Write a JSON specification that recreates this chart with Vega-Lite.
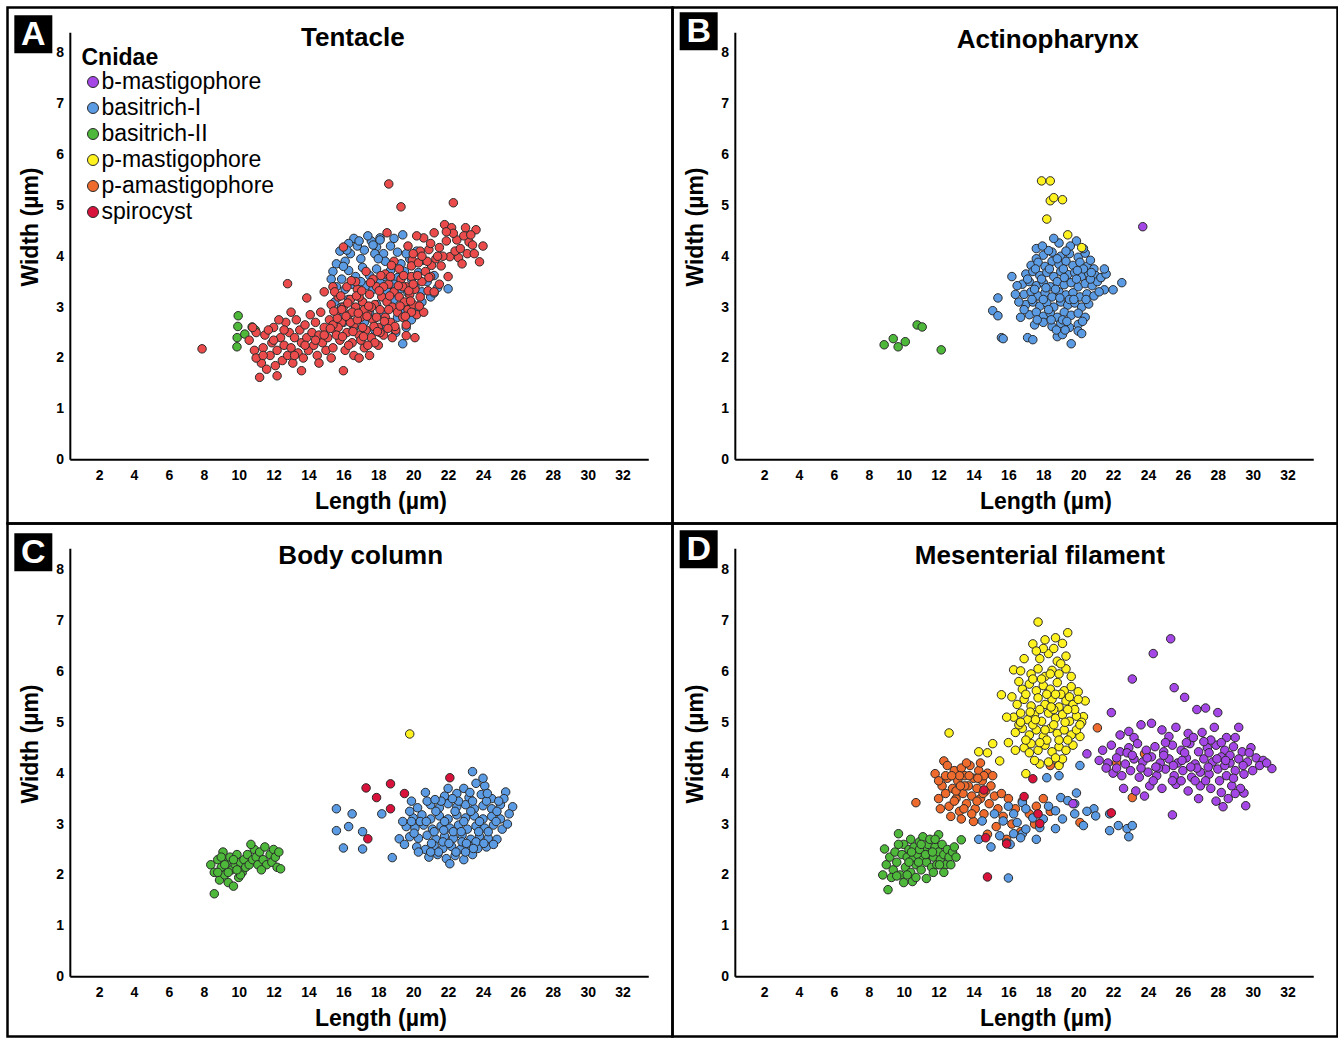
{
"$schema":"https://vega.github.io/schema/vega-lite/v6.json",
"padding":{"left":5.5,"top":5.5,"right":0,"bottom":0},
"background":"white",
"config":{
"font":"Liberation Sans",
"view":{"stroke":"black","strokeWidth":2.5},
"point":{"filled":true,"size":72,"stroke":"#2a2a2a","strokeWidth":1,"opacity":1},
"axis":{"domain":false,"ticks":false,"grid":false,"labelFont":"Liberation Sans","labelFontWeight":"bold","labelFontSize":14,"labelColor":"black","labelFlush":false,"labelOverlap":false,"titleFont":"Liberation Sans","titleFontSize":23,"titleFontWeight":"bold","titleColor":"black","titleBaseline":"alphabetic","titleAlign":"center"},
"legend":{"orient":"none","legendX":74,"legendY":39,"padding":0,"titleFont":"Liberation Sans","titleFontSize":23,"titleFontWeight":"bold","titleColor":"black","titlePadding":1,"labelFont":"Liberation Sans","labelFontSize":23,"labelColor":"black","labelOffset":-3,"labelLimit":0,"symbolType":"circle","symbolSize":121,"symbolStrokeColor":"#2a2a2a","symbolStrokeWidth":1,"rowPadding":2,"symbolOpacity":1}
},
"datasets":{
"tent_bII":[{"L":9.97,"W":2.83},{"L":9.95,"W":2.62},{"L":10.77,"W":2.61},{"L":10.95,"W":2.55},{"L":9.91,"W":2.4},{"L":9.9,"W":2.22},{"L":10.35,"W":2.47}],
"tent_bI":[{"L":16.4,"W":4.05},{"L":16.8,"W":4.2},{"L":17.2,"W":4.12},{"L":17.6,"W":4.3},{"L":17.9,"W":4.18},{"L":18.3,"W":4.05},{"L":18.1,"W":4.36},{"L":17.0,"W":3.95},{"L":16.1,"W":3.9},{"L":15.8,"W":4.1},{"L":18.7,"W":4.2},{"L":19.1,"W":4.08},{"L":19.4,"W":4.42},{"L":18.1,"W":4.32},{"L":16.6,"W":4.35},{"L":17.4,"W":4.4},{"L":15.6,"W":3.85},{"L":19.8,"W":3.95},{"L":20.2,"W":4.1},{"L":20.6,"W":3.92},{"L":17.8,"W":4.05},{"L":16.3,"W":4.25},{"L":15.4,"W":3.7},{"L":15.9,"W":3.55},{"L":16.3,"W":3.72},{"L":16.7,"W":3.6},{"L":17.1,"W":3.78},{"L":17.5,"W":3.62},{"L":17.9,"W":3.75},{"L":18.3,"W":3.6},{"L":18.7,"W":3.72},{"L":19.1,"W":3.58},{"L":19.5,"W":3.7},{"L":19.9,"W":3.55},{"L":20.3,"W":3.68},{"L":20.8,"W":3.5},{"L":21.2,"W":3.62},{"L":15.6,"W":3.4},{"L":16.1,"W":3.35},{"L":16.5,"W":3.45},{"L":16.9,"W":3.3},{"L":17.3,"W":3.42},{"L":17.7,"W":3.35},{"L":18.1,"W":3.48},{"L":18.5,"W":3.32},{"L":18.9,"W":3.45},{"L":19.3,"W":3.36},{"L":19.7,"W":3.28},{"L":20.1,"W":3.4},{"L":20.5,"W":3.3},{"L":21.0,"W":3.2},{"L":21.4,"W":3.38},{"L":15.3,"W":3.55},{"L":16.0,"W":3.8},{"L":18.4,"W":3.9},{"L":19.3,"W":3.85},{"L":17.0,"W":3.5},{"L":18.0,"W":3.95},{"L":15.5,"W":3.1},{"L":15.9,"W":3.0},{"L":16.3,"W":3.15},{"L":16.7,"W":2.95},{"L":17.1,"W":3.1},{"L":17.5,"W":2.9},{"L":17.9,"W":3.05},{"L":18.3,"W":2.85},{"L":18.7,"W":3.0},{"L":19.1,"W":2.8},{"L":19.5,"W":2.95},{"L":19.9,"W":2.75},{"L":20.3,"W":2.9},{"L":16.0,"W":2.7},{"L":16.6,"W":2.6},{"L":17.2,"W":2.7},{"L":17.8,"W":2.55},{"L":18.4,"W":2.65},{"L":19.0,"W":2.5},{"L":19.6,"W":2.6},{"L":19.4,"W":2.28},{"L":20.5,"W":3.1},{"L":21.2,"W":3.28},{"L":22.0,"W":3.36},{"L":15.8,"W":2.85},{"L":18.9,"W":3.15},{"L":16.9,"W":4.3},{"L":17.7,"W":4.22},{"L":18.9,"W":4.35},{"L":16.2,"W":4.12},{"L":19.6,"W":4.05}],
"tent_sp":[{"L":7.9,"W":2.18},{"L":18.6,"W":5.42},{"L":19.3,"W":4.97},{"L":22.3,"W":5.05},{"L":12.8,"W":3.46},{"L":13.9,"W":3.18},{"L":16.0,"W":4.18},{"L":18.5,"W":4.46},{"L":14.9,"W":3.3},{"L":15.4,"W":3.4},
{"L":10.6,"W":2.35},{"L":10.9,"W":2.15},{"L":11.0,"W":2.5},{"L":11.2,"W":1.62},{"L":11.3,"W":1.9},{"L":11.4,"W":2.2},{"L":11.5,"W":2.45},{"L":11.6,"W":1.78},{"L":11.8,"W":2.05},{"L":11.9,"W":2.3},{"L":12.0,"W":2.6},{"L":12.1,"W":1.85},{"L":12.2,"W":2.15},{"L":12.4,"W":2.4},{"L":12.5,"W":1.95},{"L":12.6,"W":2.25},{"L":12.7,"W":2.7},{"L":12.8,"W":2.05},{"L":12.9,"W":2.5},{"L":13.0,"W":2.2},{"L":13.1,"W":1.9},{"L":13.2,"W":2.4},{"L":13.3,"W":2.75},{"L":13.4,"W":2.1},{"L":13.5,"W":2.55},{"L":13.6,"W":2.3},{"L":13.7,"W":2.0},{"L":13.8,"W":2.65},{"L":13.9,"W":2.4},{"L":14.0,"W":2.15},{"L":14.1,"W":2.85},{"L":14.2,"W":2.5},{"L":14.3,"W":2.25},{"L":14.4,"W":2.7},{"L":14.5,"W":2.05},{"L":14.6,"W":2.45},{"L":14.7,"W":2.9},{"L":14.8,"W":2.3},{"L":14.9,"W":2.6},{"L":15.0,"W":2.15},{"L":11.7,"W":2.55},{"L":12.3,"W":2.75},{"L":13.0,"W":2.9},{"L":12.2,"W":1.65},{"L":11.0,"W":2.0},{"L":10.8,"W":2.6},{"L":13.6,"W":1.75},{"L":14.6,"W":1.9},
{"L":15.1,"W":2.4},{"L":15.2,"W":2.75},{"L":15.3,"W":3.05},{"L":15.4,"W":2.2},{"L":15.5,"W":2.55},{"L":15.6,"W":2.9},{"L":15.7,"W":3.2},{"L":15.8,"W":2.35},{"L":15.9,"W":2.7},{"L":16.0,"W":3.0},{"L":16.1,"W":2.15},{"L":16.2,"W":2.5},{"L":16.3,"W":2.85},{"L":16.4,"W":3.15},{"L":16.5,"W":2.3},{"L":16.6,"W":2.65},{"L":16.7,"W":3.0},{"L":16.8,"W":3.35},{"L":16.9,"W":2.45},{"L":17.0,"W":2.8},{"L":17.1,"W":3.1},{"L":17.2,"W":2.2},{"L":17.3,"W":2.55},{"L":17.4,"W":2.9},{"L":17.5,"W":3.25},{"L":17.6,"W":2.4},{"L":17.7,"W":2.75},{"L":17.8,"W":3.05},{"L":17.9,"W":3.4},{"L":18.0,"W":2.6},{"L":18.1,"W":2.95},{"L":18.2,"W":3.2},{"L":18.3,"W":2.45},{"L":18.4,"W":2.8},{"L":18.5,"W":3.1},{"L":18.6,"W":3.45},{"L":18.7,"W":2.7},{"L":18.8,"W":3.0},{"L":18.9,"W":3.3},{"L":19.0,"W":2.55},{"L":19.1,"W":2.9},{"L":19.2,"W":3.2},{"L":19.3,"W":3.55},{"L":19.4,"W":2.8},{"L":19.5,"W":3.1},{"L":19.6,"W":3.4},{"L":19.7,"W":2.95},{"L":19.8,"W":3.25},{"L":19.9,"W":3.6},{"L":20.0,"W":3.05},{"L":20.1,"W":3.35},{"L":20.2,"W":2.85},{"L":15.3,"W":2.0},{"L":16.0,"W":1.75},{"L":16.6,"W":2.05},{"L":17.5,"W":2.05},{"L":18.0,"W":2.25},{"L":15.7,"W":2.6},{"L":16.4,"W":2.7},{"L":17.1,"W":2.6},{"L":17.9,"W":2.8},{"L":18.6,"W":2.95},{"L":16.9,"W":3.2},{"L":17.7,"W":3.55},{"L":18.4,"W":3.65},{"L":16.2,"W":3.4},{"L":15.5,"W":3.3},{"L":19.2,"W":3.75},{"L":18.9,"W":3.9},{"L":17.3,"W":3.7},{"L":16.7,"W":3.5},{"L":17.0,"W":2.35},{"L":18.8,"W":2.4},{"L":19.6,"W":2.65},{"L":20.4,"W":3.2},{"L":20.6,"W":2.9},{"L":20.5,"W":3.5},{"L":16.3,"W":2.25},{"L":15.9,"W":2.95},{"L":17.6,"W":3.0},{"L":18.3,"W":3.4},{"L":19.4,"W":3.4},{"L":17.2,"W":2.95},{"L":16.5,"W":2.9},{"L":15.6,"W":2.45},{"L":18.1,"W":2.5},{"L":19.9,"W":2.9},{"L":17.8,"W":2.3},{"L":16.8,"W":2.75},{"L":15.4,"W":2.65},{"L":18.7,"W":3.6},{"L":19.6,"W":2.44},{"L":20.1,"W":2.4},{"L":16.9,"W":2.0},{"L":17.4,"W":2.25},
{"L":15.25,"W":2.58},{"L":15.65,"W":2.78},{"L":15.95,"W":2.42},{"L":16.25,"W":3.08},{"L":16.55,"W":2.52},{"L":16.85,"W":2.88},{"L":17.15,"W":2.42},{"L":17.45,"W":3.02},{"L":17.75,"W":2.62},{"L":18.05,"W":3.32},{"L":18.35,"W":2.72},{"L":18.65,"W":3.22},{"L":18.95,"W":2.62},{"L":19.25,"W":3.02},{"L":19.55,"W":2.82},{"L":19.85,"W":3.12},{"L":15.45,"W":2.92},{"L":16.15,"W":2.82},{"L":16.75,"W":3.22},{"L":17.35,"W":2.82},{"L":17.95,"W":2.52},{"L":18.55,"W":2.58},{"L":19.15,"W":3.42},{"L":19.75,"W":3.32},{"L":20.35,"W":3.02},{"L":20.25,"W":3.62},{"L":19.45,"W":3.62},{"L":18.15,"W":3.62},{"L":17.55,"W":3.48},{"L":16.45,"W":3.52},{"L":15.85,"W":3.22},{"L":17.05,"W":3.32},{"L":18.75,"W":3.82},{"L":19.95,"W":3.92},{"L":20.85,"W":3.32},{"L":21.05,"W":3.82},{"L":14.9,"W":2.45},{"L":14.4,"W":2.35},{"L":13.8,"W":2.25},{"L":13.2,"W":2.05},{"L":12.6,"W":2.55},{"L":12.0,"W":2.35},{"L":11.4,"W":2.05},
{"L":19.9,"W":3.81},{"L":20.3,"W":3.87},{"L":20.4,"W":4.1},{"L":20.6,"W":4.36},{"L":20.9,"W":4.13},{"L":21.2,"W":4.46},{"L":21.5,"W":4.17},{"L":21.6,"W":3.81},{"L":21.8,"W":4.62},{"L":22.1,"W":3.99},{"L":22.2,"W":4.56},{"L":22.5,"W":4.32},{"L":22.6,"W":3.97},{"L":22.8,"W":3.85},{"L":23.0,"W":4.56},{"L":23.2,"W":4.28},{"L":23.4,"W":4.22},{"L":23.6,"W":4.52},{"L":23.8,"W":3.89},{"L":21.0,"W":3.6},{"L":20.8,"W":3.9},{"L":21.3,"W":3.95},{"L":21.9,"W":4.3},{"L":22.4,"W":4.1},{"L":20.0,"W":3.45},{"L":20.7,"W":3.7},{"L":21.2,"W":3.3},{"L":21.5,"W":3.45},{"L":20.5,"W":4.0},{"L":23.1,"W":4.05},{"L":22.9,"W":4.4},{"L":21.7,"W":4.0},{"L":21.0,"W":4.25},{"L":19.7,"W":4.2},{"L":20.2,"W":4.4},{"L":22.0,"W":3.6},{"L":21.4,"W":4.0},{"L":20.0,"W":4.05},{"L":22.3,"W":4.45},{"L":23.3,"W":4.42},{"L":21.9,"W":4.48},{"L":22.7,"W":4.15},{"L":23.5,"W":4.05},{"L":24.0,"W":4.2},{"L":20.9,"W":3.58}],
"act_bII":[{"L":8.88,"W":2.26},{"L":9.4,"W":2.38},{"L":9.68,"W":2.22},{"L":10.09,"W":2.32},{"L":10.77,"W":2.65},{"L":11.06,"W":2.61},{"L":12.15,"W":2.16}],
"act_bI":[{"L":18.0,"W":4.02},{"L":18.5,"W":4.08},{"L":19.0,"W":4.0},{"L":19.5,"W":4.05},{"L":20.0,"W":3.98},{"L":20.4,"W":4.06},{"L":17.6,"W":3.95},{"L":17.3,"W":3.82},{"L":17.7,"W":3.88},{"L":18.1,"W":3.8},{"L":18.5,"W":3.9},{"L":18.9,"W":3.84},{"L":19.3,"W":3.9},{"L":19.7,"W":3.82},{"L":20.1,"W":3.88},{"L":20.5,"W":3.8},{"L":20.9,"W":3.75},{"L":17.0,"W":3.65},{"L":17.4,"W":3.7},{"L":17.8,"W":3.62},{"L":18.2,"W":3.68},{"L":18.6,"W":3.6},{"L":19.0,"W":3.7},{"L":19.4,"W":3.64},{"L":19.8,"W":3.68},{"L":20.2,"W":3.6},{"L":20.6,"W":3.66},{"L":21.0,"W":3.62},{"L":21.3,"W":3.58},{"L":16.8,"W":3.45},{"L":17.2,"W":3.5},{"L":17.6,"W":3.42},{"L":18.0,"W":3.48},{"L":18.4,"W":3.4},{"L":18.8,"W":3.5},{"L":19.2,"W":3.44},{"L":19.6,"W":3.48},{"L":20.0,"W":3.4},{"L":20.4,"W":3.46},{"L":20.8,"W":3.42},{"L":21.1,"W":3.5},{"L":16.9,"W":3.25},{"L":17.3,"W":3.3},{"L":17.7,"W":3.22},{"L":18.1,"W":3.28},{"L":18.5,"W":3.2},{"L":18.9,"W":3.3},{"L":19.3,"W":3.24},{"L":19.7,"W":3.28},{"L":20.1,"W":3.2},{"L":20.5,"W":3.26},{"L":20.9,"W":3.22},{"L":17.0,"W":3.05},{"L":17.4,"W":3.1},{"L":17.8,"W":3.02},{"L":18.2,"W":3.08},{"L":18.6,"W":3.0},{"L":19.0,"W":3.1},{"L":19.4,"W":3.04},{"L":19.8,"W":3.08},{"L":20.2,"W":3.0},{"L":20.6,"W":3.06},{"L":17.2,"W":2.85},{"L":17.6,"W":2.9},{"L":18.0,"W":2.82},{"L":18.4,"W":2.88},{"L":18.8,"W":2.8},{"L":19.2,"W":2.9},{"L":19.6,"W":2.84},{"L":20.0,"W":2.88},{"L":20.4,"W":2.8},{"L":17.5,"W":2.65},{"L":18.0,"W":2.7},{"L":18.5,"W":2.62},{"L":19.0,"W":2.68},{"L":19.5,"W":2.6},{"L":20.0,"W":2.66},{"L":17.9,"W":3.55},{"L":18.7,"W":3.35},{"L":19.5,"W":3.15},{"L":18.3,"W":2.95},{"L":19.9,"W":3.55},{"L":17.5,"W":3.35},{"L":20.3,"W":3.75},{"L":18.8,"W":3.95},{"L":19.2,"W":3.58},{"L":18.0,"W":3.15},{"L":19.1,"W":2.75},{"L":20.7,"W":3.55},{"L":16.5,"W":3.42},{"L":15.4,"W":3.18},{"L":15.1,"W":2.93},{"L":15.4,"W":2.83},{"L":15.6,"W":2.4},{"L":15.7,"W":2.38},{"L":17.1,"W":2.4},{"L":17.4,"W":2.36},{"L":18.8,"W":2.42},{"L":19.1,"W":2.46},{"L":19.6,"W":2.28},{"L":20.0,"W":2.53},{"L":20.2,"W":2.48},{"L":21.5,"W":3.34},{"L":22.0,"W":3.34},{"L":22.5,"W":3.48},{"L":18.9,"W":4.26},{"L":18.3,"W":4.11},{"L":20.3,"W":4.15},{"L":21.3,"W":3.58},{"L":21.6,"W":3.65},{"L":21.5,"W":3.75},{"L":16.2,"W":3.6},{"L":16.6,"W":3.1},{"L":16.7,"W":2.8},{"L":19.9,"W":4.3},{"L":17.6,"W":4.15},{"L":17.1,"W":3.55},{"L":17.55,"W":3.75},{"L":18.35,"W":3.75},{"L":19.15,"W":3.75},{"L":19.95,"W":3.72},{"L":20.75,"W":3.68},{"L":17.35,"W":3.15},{"L":18.15,"W":3.38},{"L":18.95,"W":3.18},{"L":19.75,"W":3.15},{"L":20.45,"W":3.15},{"L":17.65,"W":2.75},{"L":18.45,"W":2.75},{"L":19.35,"W":2.72},{"L":20.25,"W":2.72},{"L":18.75,"W":2.55},{"L":19.25,"W":2.55},{"L":17.95,"W":4.2},{"L":19.55,"W":4.2},{"L":20.7,"W":3.92},{"L":16.9,"W":2.95},{"L":21.2,"W":3.3},{"L":16.4,"W":3.25},{"L":18.6,"W":4.35},{"L":19.3,"W":4.1}],
"act_pm":[{"L":17.9,"W":5.48},{"L":18.4,"W":5.48},{"L":18.4,"W":5.09},{"L":18.6,"W":5.15},{"L":19.1,"W":5.11},{"L":18.2,"W":4.73},{"L":19.4,"W":4.42},{"L":20.2,"W":4.17}],
"act_bm":[{"L":23.7,"W":4.58}],
"body_bII":[{"L":8.6,"W":1.63},{"L":8.4,"W":2.2},{"L":8.6,"W":2.05},{"L":8.8,"W":2.3},{"L":8.9,"W":1.9},{"L":9.0,"W":2.15},{"L":9.1,"W":2.45},{"L":9.2,"W":2.0},{"L":9.3,"W":2.25},{"L":9.4,"W":1.85},{"L":9.5,"W":2.35},{"L":9.6,"W":2.1},{"L":9.7,"W":1.78},{"L":9.8,"W":2.2},{"L":9.9,"W":2.4},{"L":10.0,"W":1.95},{"L":10.1,"W":2.25},{"L":10.2,"W":2.05},{"L":10.3,"W":2.3},{"L":10.4,"W":2.15},{"L":10.5,"W":2.4},{"L":9.0,"W":2.35},{"L":9.4,"W":2.05},{"L":9.7,"W":2.3},{"L":10.1,"W":2.0},{"L":8.8,"W":2.05},{"L":9.2,"W":2.2},{"L":9.9,"W":2.1},{"L":10.6,"W":2.2},{"L":10.8,"W":2.3},{"L":10.9,"W":2.5},{"L":11.0,"W":2.35},{"L":11.1,"W":2.2},{"L":11.2,"W":2.45},{"L":11.4,"W":2.3},{"L":11.5,"W":2.55},{"L":11.6,"W":2.2},{"L":11.8,"W":2.4},{"L":11.9,"W":2.25},{"L":12.0,"W":2.5},{"L":12.1,"W":2.35},{"L":12.2,"W":2.15},{"L":12.4,"W":2.12},{"L":10.7,"W":2.6},{"L":11.3,"W":2.1},{"L":12.3,"W":2.45}],
"body_bI":[{"L":15.6,"W":3.3},{"L":16.3,"W":2.95},{"L":15.6,"W":2.87},{"L":16.0,"W":2.53},{"L":17.1,"W":2.51},{"L":17.1,"W":2.85},{"L":18.2,"W":3.2},{"L":18.8,"W":2.34},{"L":19.2,"W":2.71},{"L":16.5,"W":3.2},
{"L":21.8,"W":3.55},{"L":22.5,"W":3.6},{"L":23.2,"W":3.52},{"L":23.9,"W":3.58},{"L":24.5,"W":3.5},{"L":25.3,"W":3.63},{"L":22.9,"W":3.7},{"L":24.1,"W":3.75},{"L":21.0,"W":3.38},{"L":21.5,"W":3.32},{"L":22.0,"W":3.4},{"L":22.5,"W":3.34},{"L":23.0,"W":3.38},{"L":23.5,"W":3.3},{"L":24.0,"W":3.36},{"L":24.5,"W":3.3},{"L":25.0,"W":3.38},{"L":25.7,"W":3.34},{"L":20.0,"W":3.12},{"L":20.5,"W":3.18},{"L":21.0,"W":3.1},{"L":21.5,"W":3.16},{"L":22.0,"W":3.1},{"L":22.5,"W":3.18},{"L":23.0,"W":3.12},{"L":23.5,"W":3.16},{"L":24.0,"W":3.1},{"L":24.5,"W":3.15},{"L":25.0,"W":3.1},{"L":19.6,"W":2.95},{"L":20.1,"W":2.92},{"L":20.6,"W":2.98},{"L":21.1,"W":2.9},{"L":21.6,"W":2.96},{"L":22.1,"W":2.92},{"L":22.6,"W":2.98},{"L":23.1,"W":2.9},{"L":23.6,"W":2.96},{"L":24.1,"W":2.92},{"L":24.6,"W":2.98},{"L":25.1,"W":2.9},{"L":19.8,"W":2.75},{"L":20.3,"W":2.72},{"L":20.8,"W":2.78},{"L":21.3,"W":2.7},{"L":21.8,"W":2.76},{"L":22.3,"W":2.72},{"L":22.8,"W":2.78},{"L":23.3,"W":2.7},{"L":23.8,"W":2.76},{"L":24.3,"W":2.72},{"L":24.8,"W":2.7},{"L":20.2,"W":2.55},{"L":20.7,"W":2.5},{"L":21.2,"W":2.58},{"L":21.7,"W":2.52},{"L":22.2,"W":2.56},{"L":22.7,"W":2.5},{"L":23.2,"W":2.58},{"L":23.7,"W":2.52},{"L":24.2,"W":2.55},{"L":20.9,"W":2.35},{"L":21.4,"W":2.4},{"L":21.9,"W":2.32},{"L":22.4,"W":2.38},{"L":22.9,"W":2.3},{"L":23.4,"W":2.4},{"L":22.1,"W":2.22},{"L":20.8,"W":3.45},{"L":21.3,"W":3.25},{"L":21.8,"W":3.05},{"L":22.3,"W":2.85},{"L":22.8,"W":2.65},{"L":23.3,"W":3.25},{"L":23.8,"W":3.05},{"L":24.3,"W":2.85},{"L":21.2,"W":2.85},{"L":21.7,"W":2.65},{"L":22.6,"W":3.45},{"L":23.6,"W":2.65},{"L":20.4,"W":3.05},{"L":24.8,"W":3.25},{"L":19.8,"W":3.25},{"L":20.3,"W":2.45},{"L":22.9,"W":3.05},{"L":21.6,"W":3.45},{"L":23.4,"W":3.45},{"L":24.2,"W":3.45},{"L":22.4,"W":3.25},{"L":23.0,"W":2.45},{"L":24.6,"W":2.6},{"L":25.4,"W":3.0},{"L":25.5,"W":3.2},{"L":19.5,"W":2.6},{"L":19.4,"W":3.05},{"L":23.4,"W":4.03},{"L":24.0,"W":3.9},{"L":20.7,"W":3.62},{"L":19.9,"W":3.45},{"L":20.25,"W":3.32},{"L":21.25,"W":3.48},{"L":22.25,"W":3.5},{"L":23.25,"W":3.62},{"L":24.25,"W":3.6},{"L":20.05,"W":2.82},{"L":21.05,"W":2.62},{"L":22.05,"W":2.62},{"L":23.05,"W":2.62},{"L":24.05,"W":2.62},{"L":20.75,"W":3.05},{"L":21.75,"W":2.88},{"L":22.75,"W":2.85},{"L":23.75,"W":2.85},{"L":24.75,"W":3.05},{"L":21.45,"W":2.45},{"L":22.45,"W":2.45},{"L":23.45,"W":2.52},{"L":25.2,"W":3.5},{"L":22.0,"W":3.7},{"L":23.6,"W":3.8},{"L":24.9,"W":3.45},{"L":21.0,"W":2.45},{"L":19.9,"W":3.05}],
"body_sp":[{"L":17.3,"W":3.71},{"L":18.7,"W":3.79},{"L":17.9,"W":3.52},{"L":19.5,"W":3.6},{"L":17.4,"W":2.71},{"L":18.7,"W":3.3},{"L":22.1,"W":3.91}],
"body_pm":[{"L":19.8,"W":4.77}],
"mes_bII":[{"L":9.1,"W":1.71},{"L":8.9,"W":2.51},{"L":9.7,"W":2.81},{"L":12.0,"W":2.79},{"L":13.3,"W":2.69},{"L":10.5,"W":1.87},{"L":11.3,"W":1.93},{"L":9.0,"W":2.2},{"L":9.2,"W":2.35},{"L":9.4,"W":2.1},{"L":9.5,"W":2.45},{"L":9.6,"W":2.25},{"L":9.8,"W":2.0},{"L":9.9,"W":2.4},{"L":10.0,"W":2.6},{"L":10.1,"W":2.15},{"L":10.2,"W":2.35},{"L":10.3,"W":2.5},{"L":10.4,"W":2.05},{"L":10.5,"W":2.3},{"L":10.6,"W":2.55},{"L":10.7,"W":2.2},{"L":10.8,"W":2.4},{"L":10.9,"W":2.65},{"L":11.0,"W":2.1},{"L":11.1,"W":2.3},{"L":11.2,"W":2.5},{"L":11.3,"W":2.25},{"L":11.4,"W":2.6},{"L":11.5,"W":2.4},{"L":11.6,"W":2.15},{"L":11.7,"W":2.35},{"L":11.8,"W":2.55},{"L":11.9,"W":2.2},{"L":12.0,"W":2.45},{"L":12.1,"W":2.3},{"L":12.2,"W":2.6},{"L":12.3,"W":2.4},{"L":12.4,"W":2.2},{"L":12.5,"W":2.5},{"L":12.6,"W":2.35},{"L":12.8,"W":2.45},{"L":13.0,"W":2.35},{"L":9.3,"W":1.95},{"L":9.7,"W":2.6},{"L":10.4,"W":2.7},{"L":10.7,"W":1.95},{"L":11.1,"W":2.75},{"L":11.7,"W":2.05},{"L":12.3,"W":2.05},{"L":12.7,"W":2.2},{"L":10.0,"W":1.85},{"L":9.6,"W":1.98},{"L":11.5,"W":2.7},{"L":10.3,"W":2.25},{"L":10.9,"W":2.5},{"L":11.8,"W":2.7},{"L":12.9,"W":2.55},{"L":10.2,"W":2.0},{"L":8.8,"W":2.0},{"L":10.85,"W":2.25},{"L":11.25,"W":2.4},{"L":11.65,"W":2.45},{"L":10.45,"W":2.45},{"L":12.05,"W":2.2},{"L":11.0,"W":2.6}],
"mes_pa":[{"L":11.8,"W":3.99},{"L":12.3,"W":4.24},{"L":10.7,"W":3.42},{"L":12.0,"W":3.5},{"L":12.2,"W":3.75},{"L":12.4,"W":3.6},{"L":12.5,"W":3.9},{"L":12.6,"W":3.35},{"L":12.8,"W":3.7},{"L":12.9,"W":4.05},{"L":13.0,"W":3.5},{"L":13.1,"W":3.85},{"L":13.2,"W":3.25},{"L":13.3,"W":4.1},{"L":13.4,"W":3.6},{"L":13.5,"W":3.95},{"L":13.6,"W":3.4},{"L":13.7,"W":3.75},{"L":13.8,"W":4.15},{"L":13.9,"W":3.55},{"L":14.0,"W":3.9},{"L":14.1,"W":3.3},{"L":14.2,"W":3.7},{"L":14.3,"W":4.05},{"L":14.4,"W":3.5},{"L":14.5,"W":3.85},{"L":14.6,"W":3.2},{"L":14.7,"W":3.65},{"L":14.8,"W":4.0},{"L":14.9,"W":3.4},{"L":15.0,"W":3.75},{"L":15.2,"W":3.55},{"L":12.1,"W":3.3},{"L":12.7,"W":3.15},{"L":13.3,"W":3.1},{"L":14.0,"W":3.05},{"L":12.5,"W":4.15},{"L":13.6,"W":4.2},{"L":14.4,"W":4.2},{"L":15.1,"W":3.95},{"L":15.4,"W":3.3},{"L":15.6,"W":3.6},{"L":13.0,"W":3.65},{"L":13.9,"W":3.2},{"L":12.9,"W":3.45},{"L":14.2,"W":3.45},{"L":13.5,"W":3.75},{"L":12.4,"W":3.95},{"L":14.6,"W":3.95},{"L":13.2,"W":3.95},{"L":12.0,"W":3.85},{"L":13.25,"W":3.75},{"L":13.75,"W":3.95},{"L":14.25,"W":3.9},{"L":12.75,"W":3.95},{"L":13.45,"W":3.3},{"L":14.55,"W":3.6},{"L":16.0,"W":3.5},{"L":16.4,"W":3.3},{"L":16.8,"W":3.45},{"L":17.2,"W":3.2},{"L":17.6,"W":3.35},{"L":18.0,"W":3.5},{"L":18.4,"W":3.25},{"L":16.2,"W":3.0},{"L":16.7,"W":2.85},{"L":17.5,"W":3.0},{"L":15.7,"W":3.15},{"L":18.4,"W":4.15},{"L":18.9,"W":4.18},{"L":20.1,"W":3.03},{"L":21.1,"W":4.89},{"L":23.8,"W":4.38},{"L":22.2,"W":4.2},{"L":23.1,"W":3.52},{"L":15.3,"W":2.95},{"L":14.8,"W":2.8},{"L":15.9,"W":2.7}],
"mes_bI":[{"L":14.5,"W":3.06},{"L":16.0,"W":1.94},{"L":15.7,"W":3.06},{"L":16.3,"W":2.81},{"L":16.8,"W":3.42},{"L":16.8,"W":2.81},{"L":17.8,"W":2.93},{"L":18.2,"W":3.91},{"L":18.9,"W":3.95},{"L":20.1,"W":4.15},{"L":19.0,"W":3.52},{"L":19.4,"W":3.46},{"L":19.9,"W":3.61},{"L":19.8,"W":3.4},{"L":18.7,"W":3.26},{"L":18.7,"W":2.91},{"L":19.8,"W":3.2},{"L":20.3,"W":2.97},{"L":20.9,"W":3.3},{"L":21.0,"W":3.16},{"L":21.8,"W":2.87},{"L":22.3,"W":2.97},{"L":22.8,"W":2.91},{"L":23.1,"W":2.97},{"L":22.9,"W":2.75},{"L":21.8,"W":3.2},{"L":15.5,"W":2.77},{"L":15.9,"W":2.63},{"L":16.7,"W":2.73},{"L":17.0,"W":2.9},{"L":16.3,"W":3.2},{"L":16.5,"W":3.03},{"L":17.4,"W":3.12},{"L":17.0,"W":3.3},{"L":14.3,"W":2.7},{"L":15.2,"W":3.2},{"L":17.6,"W":2.7},{"L":18.3,"W":3.35},{"L":19.1,"W":3.1},{"L":20.5,"W":3.25},{"L":15.0,"W":2.55},{"L":16.1,"W":2.6},{"L":18.0,"W":3.1},{"L":16.0,"W":3.35}],
"mes_pm":[{"L":17.7,"W":6.97},{"L":19.4,"W":6.76},{"L":17.4,"W":6.54},{"L":18.1,"W":6.62},{"L":18.7,"W":6.66},{"L":16.3,"W":6.03},{"L":16.7,"W":6.01},{"L":15.6,"W":5.54},{"L":12.6,"W":4.79},{"L":15.1,"W":4.58},{"L":14.3,"W":4.42},{"L":14.8,"W":4.4},{"L":15.5,"W":4.24},{"L":20.4,"W":5.42},{"L":20.3,"W":5.11},{"L":20.1,"W":4.72},{"L":17.0,"W":3.99},{"L":17.8,"W":4.18},{"L":18.9,"W":4.15},{"L":16.4,"W":4.45},{"L":16.0,"W":4.6},{"L":17.8,"W":6.25},{"L":18.3,"W":6.35},{"L":18.8,"W":6.2},{"L":19.3,"W":6.3},{"L":18.0,"W":6.45},{"L":17.3,"W":5.95},{"L":17.7,"W":6.05},{"L":18.1,"W":5.9},{"L":18.5,"W":6.02},{"L":18.9,"W":5.95},{"L":19.3,"W":6.05},{"L":19.6,"W":5.9},{"L":16.8,"W":5.65},{"L":17.2,"W":5.75},{"L":17.6,"W":5.62},{"L":18.0,"W":5.72},{"L":18.4,"W":5.65},{"L":18.8,"W":5.78},{"L":19.2,"W":5.62},{"L":19.6,"W":5.7},{"L":20.0,"W":5.6},{"L":16.5,"W":5.35},{"L":16.9,"W":5.45},{"L":17.3,"W":5.32},{"L":17.7,"W":5.48},{"L":18.1,"W":5.35},{"L":18.5,"W":5.45},{"L":18.9,"W":5.3},{"L":19.3,"W":5.42},{"L":19.7,"W":5.35},{"L":20.0,"W":5.45},{"L":16.3,"W":5.1},{"L":16.7,"W":5.18},{"L":17.1,"W":5.05},{"L":17.5,"W":5.15},{"L":17.9,"W":5.02},{"L":18.3,"W":5.18},{"L":18.7,"W":5.08},{"L":19.1,"W":5.15},{"L":19.5,"W":5.02},{"L":19.9,"W":5.12},{"L":16.4,"W":4.8},{"L":16.8,"W":4.88},{"L":17.2,"W":4.75},{"L":17.6,"W":4.85},{"L":18.0,"W":4.72},{"L":18.4,"W":4.88},{"L":18.8,"W":4.78},{"L":19.2,"W":4.85},{"L":19.6,"W":4.75},{"L":19.9,"W":4.85},{"L":16.9,"W":4.5},{"L":17.3,"W":4.58},{"L":17.7,"W":4.45},{"L":18.1,"W":4.55},{"L":18.5,"W":4.42},{"L":18.9,"W":4.52},{"L":19.3,"W":4.45},{"L":19.7,"W":4.55},{"L":17.5,"W":4.25},{"L":18.3,"W":4.22},{"L":19.1,"W":4.28},{"L":17.0,"W":5.55},{"L":17.8,"W":5.25},{"L":18.6,"W":4.95},{"L":19.4,"W":4.65},{"L":17.4,"W":4.95},{"L":18.2,"W":4.65},{"L":19.0,"W":5.55},{"L":18.2,"W":5.55},{"L":17.4,"W":5.85},{"L":19.8,"W":5.25},{"L":16.6,"W":4.95},{"L":19.0,"W":6.15},{"L":17.0,"W":4.65},{"L":18.6,"W":5.25},{"L":17.8,"W":4.6},{"L":19.4,"W":5.25},{"L":16.2,"W":5.5},{"L":20.2,"W":5.0},{"L":16.9,"W":6.25},{"L":18.4,"W":5.95},{"L":17.55,"W":5.05},{"L":18.45,"W":5.3},{"L":19.25,"W":5.0},{"L":17.25,"W":5.2},{"L":18.1,"W":4.85},{"L":18.9,"W":4.65},{"L":17.9,"W":5.85},{"L":18.7,"W":5.55},{"L":16.7,"W":5.0},{"L":19.5,"W":5.5},{"L":17.6,"W":6.4},{"L":18.6,"W":6.45},{"L":19.1,"W":6.55},{"L":16.6,"W":5.8},{"L":20.1,"W":4.95},{"L":15.9,"W":5.1},{"L":17.2,"W":4.4},{"L":18.7,"W":4.3}],
"mes_bm":[{"L":25.3,"W":6.64},{"L":24.3,"W":6.35},{"L":23.1,"W":5.85},{"L":25.5,"W":5.68},{"L":26.1,"W":5.49},{"L":26.8,"W":5.25},{"L":27.3,"W":5.28},{"L":28.0,"W":5.19},{"L":21.9,"W":5.19},{"L":25.4,"W":3.18},{"L":29.6,"W":3.36},{"L":28.3,"W":3.34},{"L":31.1,"W":4.09},{"L":20.5,"W":4.38},{"L":29.5,"W":3.61},{"L":19.7,"W":3.4},{"L":22.4,"W":4.75},{"L":22.9,"W":4.82},{"L":23.6,"W":4.95},{"L":24.2,"W":4.98},{"L":24.8,"W":4.85},{"L":25.6,"W":4.9},{"L":26.3,"W":4.78},{"L":27.1,"W":4.8},{"L":27.8,"W":4.9},{"L":29.2,"W":4.9},{"L":23.2,"W":4.7},{"L":25.2,"W":4.72},{"L":21.4,"W":4.45},{"L":21.9,"W":4.55},{"L":22.4,"W":4.42},{"L":22.9,"W":4.5},{"L":23.4,"W":4.58},{"L":23.9,"W":4.45},{"L":24.4,"W":4.52},{"L":24.9,"W":4.42},{"L":25.4,"W":4.55},{"L":25.9,"W":4.45},{"L":26.4,"W":4.58},{"L":26.9,"W":4.42},{"L":27.4,"W":4.5},{"L":27.9,"W":4.55},{"L":28.4,"W":4.45},{"L":28.9,"W":4.52},{"L":29.4,"W":4.42},{"L":29.9,"W":4.5},{"L":21.2,"W":4.25},{"L":21.7,"W":4.2},{"L":22.2,"W":4.3},{"L":22.7,"W":4.18},{"L":23.2,"W":4.28},{"L":23.7,"W":4.22},{"L":24.2,"W":4.32},{"L":24.7,"W":4.2},{"L":25.2,"W":4.28},{"L":25.7,"W":4.2},{"L":26.2,"W":4.3},{"L":26.7,"W":4.18},{"L":27.2,"W":4.28},{"L":27.7,"W":4.22},{"L":28.2,"W":4.32},{"L":28.7,"W":4.2},{"L":29.2,"W":4.28},{"L":29.7,"W":4.22},{"L":30.2,"W":4.3},{"L":30.6,"W":4.25},{"L":22.0,"W":4.0},{"L":22.5,"W":3.95},{"L":23.0,"W":4.05},{"L":23.5,"W":3.92},{"L":24.0,"W":4.02},{"L":24.5,"W":3.95},{"L":25.0,"W":4.08},{"L":25.5,"W":3.95},{"L":26.0,"W":4.05},{"L":26.5,"W":3.92},{"L":27.0,"W":4.02},{"L":27.5,"W":3.98},{"L":28.0,"W":4.08},{"L":28.5,"W":3.95},{"L":29.0,"W":4.05},{"L":29.5,"W":3.98},{"L":30.0,"W":4.05},{"L":22.6,"W":3.7},{"L":23.3,"W":3.65},{"L":24.1,"W":3.75},{"L":24.8,"W":3.7},{"L":25.6,"W":3.78},{"L":26.3,"W":3.65},{"L":27.0,"W":3.75},{"L":27.6,"W":3.7},{"L":28.2,"W":3.62},{"L":28.8,"W":3.75},{"L":29.3,"W":3.7},{"L":23.8,"W":3.55},{"L":26.9,"W":3.5},{"L":27.9,"W":3.45},{"L":28.6,"W":3.5},{"L":25.0,"W":4.6},{"L":26.6,"W":4.7},{"L":27.6,"W":4.65},{"L":28.5,"W":4.7},{"L":24.6,"W":4.1},{"L":26.8,"W":4.1},{"L":28.4,"W":4.15},{"L":25.9,"W":3.85},{"L":27.3,"W":3.85},{"L":28.9,"W":3.9},{"L":22.8,"W":4.4},{"L":23.6,"W":4.1},{"L":24.9,"W":4.35},{"L":26.1,"W":4.4},{"L":27.5,"W":4.4},{"L":28.7,"W":4.35},{"L":29.8,"W":4.4},{"L":30.4,"W":4.15},{"L":24.3,"W":3.85},{"L":29.0,"W":3.6},{"L":21.6,"W":4.1},{"L":30.8,"W":4.2},{"L":24.45,"W":4.12},{"L":25.45,"W":4.15},{"L":26.45,"W":4.12},{"L":27.45,"W":4.12},{"L":28.45,"W":4.25},{"L":29.45,"W":4.15},{"L":23.95,"W":4.3},{"L":25.95,"W":4.25},{"L":27.95,"W":4.28},{"L":26.2,"W":4.6},{"L":27.2,"W":4.62},{"L":28.2,"W":4.6},{"L":29.0,"W":4.7},{"L":25.4,"W":3.85},{"L":26.7,"W":3.85},{"L":28.1,"W":3.85},{"L":22.2,"W":4.1},{"L":23.1,"W":4.35}],
"mes_sp":[{"L":17.4,"W":3.89},{"L":14.6,"W":3.67},{"L":16.9,"W":3.54},{"L":17.7,"W":3.2},{"L":17.8,"W":3.01},{"L":14.7,"W":2.73},{"L":15.9,"W":2.61},{"L":14.8,"W":1.96},{"L":21.9,"W":3.22}]
},
"columns":2,
"spacing":0,
"bounds":"flush",
"resolve":{"scale":{"color":"shared","x":"independent","y":"independent"}},
"concat":[
{"width":665,"height":516,"layer":[
{"data":{"values":[{}]},"mark":{"type":"rule","color":"black","strokeWidth":2},"encoding":{"x":{"datum":0.35,"type":"quantitative","scale":{"domain":[-3.25,34.86],"nice":false,"zero":false}},"x2":{"datum":33.5},"y":{"datum":0,"type":"quantitative","scale":{"domain":[-1.252,8.887],"nice":false,"zero":false}}}},
{"data":{"values":[{}]},"mark":{"type":"rule","color":"black","strokeWidth":2},"encoding":{"x":{"datum":0.35,"type":"quantitative","scale":{"domain":[-3.25,34.86],"nice":false,"zero":false}},"y":{"datum":0,"type":"quantitative","scale":{"domain":[-1.252,8.887],"nice":false,"zero":false}},"y2":{"datum":8.39}}},
{"data":{"name":"tent_bII"},"mark":"point","encoding":{"x":{"field":"L","type":"quantitative","scale":{"domain":[-3.25,34.86],"nice":false,"zero":false},"axis":{"orient":"bottom","offset":-64,"values":[2,4,6,8,10,12,14,16,18,20,22,24,26,28,30,32],"labelPadding":9,"title":"Length (µm)","titleX":373,"titleY":49}},"y":{"field":"W","type":"quantitative","scale":{"domain":[-1.252,8.887],"nice":false,"zero":false},"axis":{"orient":"left","offset":-62,"values":[0,1,2,3,4,5,6,7,8],"labelPadding":6,"title":"Width (µm)","titleAngle":-90,"titleX":-32,"titleY":219}},"color":{"datum":"basitrich-II","type":"nominal","scale":{"domain":["b-mastigophore","basitrich-I","basitrich-II","p-mastigophore","p-amastigophore","spirocyst"],"range":["#A546E6","#5B9BE4","#4DB83A","#FFF21F","#EE6B2D","#D8123B"]},"legend":{"title":"Cnidae"}}}},
{"data":{"name":"tent_bI"},"mark":"point","encoding":{"x":{"field":"L","type":"quantitative","scale":{"domain":[-3.25,34.86],"nice":false,"zero":false},"axis":{"orient":"bottom","offset":-64,"values":[2,4,6,8,10,12,14,16,18,20,22,24,26,28,30,32],"labelPadding":9,"title":"Length (µm)","titleX":373,"titleY":49}},"y":{"field":"W","type":"quantitative","scale":{"domain":[-1.252,8.887],"nice":false,"zero":false},"axis":{"orient":"left","offset":-62,"values":[0,1,2,3,4,5,6,7,8],"labelPadding":6,"title":"Width (µm)","titleAngle":-90,"titleX":-32,"titleY":219}},"color":{"datum":"basitrich-I","type":"nominal","scale":{"domain":["b-mastigophore","basitrich-I","basitrich-II","p-mastigophore","p-amastigophore","spirocyst"],"range":["#A546E6","#5B9BE4","#4DB83A","#FFF21F","#EE6B2D","#D8123B"]},"legend":{"title":"Cnidae"}}}},
{"data":{"name":"tent_sp"},"mark":{"type":"point","fill":"#EC4B4B"},"encoding":{"x":{"field":"L","type":"quantitative","scale":{"domain":[-3.25,34.86],"nice":false,"zero":false},"axis":{"orient":"bottom","offset":-64,"values":[2,4,6,8,10,12,14,16,18,20,22,24,26,28,30,32],"labelPadding":9,"title":"Length (µm)","titleX":373,"titleY":49}},"y":{"field":"W","type":"quantitative","scale":{"domain":[-1.252,8.887],"nice":false,"zero":false},"axis":{"orient":"left","offset":-62,"values":[0,1,2,3,4,5,6,7,8],"labelPadding":6,"title":"Width (µm)","titleAngle":-90,"titleX":-32,"titleY":219}}}},
{"data":{"values":[{}]},"mark":{"type":"point","shape":"square","size":1444,"fill":"black","strokeWidth":0},"encoding":{"x":{"datum":-1.77,"type":"quantitative","scale":{"domain":[-3.25,34.86],"nice":false,"zero":false}},"y":{"datum":8.36,"type":"quantitative","scale":{"domain":[-1.252,8.887],"nice":false,"zero":false}}}},
{"data":{"values":[{}]},"mark":{"type":"text","text":"A","color":"white","fontSize":34,"fontWeight":"bold","align":"center","baseline":"middle","dy":1},"encoding":{"x":{"datum":-1.77,"type":"quantitative","scale":{"domain":[-3.25,34.86],"nice":false,"zero":false}},"y":{"datum":8.36,"type":"quantitative","scale":{"domain":[-1.252,8.887],"nice":false,"zero":false}}}},
{"data":{"values":[{}]},"mark":{"type":"text","text":"Tentacle","color":"black","fontSize":26,"fontWeight":"bold","align":"center","baseline":"middle"},"encoding":{"x":{"datum":16.54,"type":"quantitative","scale":{"domain":[-3.25,34.86],"nice":false,"zero":false}},"y":{"datum":8.29,"type":"quantitative","scale":{"domain":[-1.252,8.887],"nice":false,"zero":false}}}}
]},
{"width":665,"height":516,"layer":[
{"data":{"values":[{}]},"mark":{"type":"rule","color":"black","strokeWidth":2},"encoding":{"x":{"datum":0.35,"type":"quantitative","scale":{"domain":[-3.25,34.86],"nice":false,"zero":false}},"x2":{"datum":33.5},"y":{"datum":0,"type":"quantitative","scale":{"domain":[-1.252,8.887],"nice":false,"zero":false}}}},
{"data":{"values":[{}]},"mark":{"type":"rule","color":"black","strokeWidth":2},"encoding":{"x":{"datum":0.35,"type":"quantitative","scale":{"domain":[-3.25,34.86],"nice":false,"zero":false}},"y":{"datum":0,"type":"quantitative","scale":{"domain":[-1.252,8.887],"nice":false,"zero":false}},"y2":{"datum":8.39}}},
{"data":{"name":"act_bII"},"mark":"point","encoding":{"x":{"field":"L","type":"quantitative","scale":{"domain":[-3.25,34.86],"nice":false,"zero":false},"axis":{"orient":"bottom","offset":-64,"values":[2,4,6,8,10,12,14,16,18,20,22,24,26,28,30,32],"labelPadding":9,"title":"Length (µm)","titleX":373,"titleY":49}},"y":{"field":"W","type":"quantitative","scale":{"domain":[-1.252,8.887],"nice":false,"zero":false},"axis":{"orient":"left","offset":-62,"values":[0,1,2,3,4,5,6,7,8],"labelPadding":6,"title":"Width (µm)","titleAngle":-90,"titleX":-32,"titleY":219}},"color":{"datum":"basitrich-II","type":"nominal","scale":{"domain":["b-mastigophore","basitrich-I","basitrich-II","p-mastigophore","p-amastigophore","spirocyst"],"range":["#A546E6","#5B9BE4","#4DB83A","#FFF21F","#EE6B2D","#D8123B"]},"legend":{"title":"Cnidae"}}}},
{"data":{"name":"act_bI"},"mark":"point","encoding":{"x":{"field":"L","type":"quantitative","scale":{"domain":[-3.25,34.86],"nice":false,"zero":false},"axis":{"orient":"bottom","offset":-64,"values":[2,4,6,8,10,12,14,16,18,20,22,24,26,28,30,32],"labelPadding":9,"title":"Length (µm)","titleX":373,"titleY":49}},"y":{"field":"W","type":"quantitative","scale":{"domain":[-1.252,8.887],"nice":false,"zero":false},"axis":{"orient":"left","offset":-62,"values":[0,1,2,3,4,5,6,7,8],"labelPadding":6,"title":"Width (µm)","titleAngle":-90,"titleX":-32,"titleY":219}},"color":{"datum":"basitrich-I","type":"nominal","scale":{"domain":["b-mastigophore","basitrich-I","basitrich-II","p-mastigophore","p-amastigophore","spirocyst"],"range":["#A546E6","#5B9BE4","#4DB83A","#FFF21F","#EE6B2D","#D8123B"]},"legend":{"title":"Cnidae"}}}},
{"data":{"name":"act_pm"},"mark":"point","encoding":{"x":{"field":"L","type":"quantitative","scale":{"domain":[-3.25,34.86],"nice":false,"zero":false},"axis":{"orient":"bottom","offset":-64,"values":[2,4,6,8,10,12,14,16,18,20,22,24,26,28,30,32],"labelPadding":9,"title":"Length (µm)","titleX":373,"titleY":49}},"y":{"field":"W","type":"quantitative","scale":{"domain":[-1.252,8.887],"nice":false,"zero":false},"axis":{"orient":"left","offset":-62,"values":[0,1,2,3,4,5,6,7,8],"labelPadding":6,"title":"Width (µm)","titleAngle":-90,"titleX":-32,"titleY":219}},"color":{"datum":"p-mastigophore","type":"nominal","scale":{"domain":["b-mastigophore","basitrich-I","basitrich-II","p-mastigophore","p-amastigophore","spirocyst"],"range":["#A546E6","#5B9BE4","#4DB83A","#FFF21F","#EE6B2D","#D8123B"]},"legend":{"title":"Cnidae"}}}},
{"data":{"name":"act_bm"},"mark":"point","encoding":{"x":{"field":"L","type":"quantitative","scale":{"domain":[-3.25,34.86],"nice":false,"zero":false},"axis":{"orient":"bottom","offset":-64,"values":[2,4,6,8,10,12,14,16,18,20,22,24,26,28,30,32],"labelPadding":9,"title":"Length (µm)","titleX":373,"titleY":49}},"y":{"field":"W","type":"quantitative","scale":{"domain":[-1.252,8.887],"nice":false,"zero":false},"axis":{"orient":"left","offset":-62,"values":[0,1,2,3,4,5,6,7,8],"labelPadding":6,"title":"Width (µm)","titleAngle":-90,"titleX":-32,"titleY":219}},"color":{"datum":"b-mastigophore","type":"nominal","scale":{"domain":["b-mastigophore","basitrich-I","basitrich-II","p-mastigophore","p-amastigophore","spirocyst"],"range":["#A546E6","#5B9BE4","#4DB83A","#FFF21F","#EE6B2D","#D8123B"]},"legend":{"title":"Cnidae"}}}},
{"data":{"values":[{}]},"mark":{"type":"point","shape":"square","size":1444,"fill":"black","strokeWidth":0},"encoding":{"x":{"datum":-1.75,"type":"quantitative","scale":{"domain":[-3.25,34.86],"nice":false,"zero":false}},"y":{"datum":8.42,"type":"quantitative","scale":{"domain":[-1.252,8.887],"nice":false,"zero":false}}}},
{"data":{"values":[{}]},"mark":{"type":"text","text":"B","color":"white","fontSize":34,"fontWeight":"bold","align":"center","baseline":"middle","dy":1},"encoding":{"x":{"datum":-1.75,"type":"quantitative","scale":{"domain":[-3.25,34.86],"nice":false,"zero":false}},"y":{"datum":8.42,"type":"quantitative","scale":{"domain":[-1.252,8.887],"nice":false,"zero":false}}}},
{"data":{"values":[{}]},"mark":{"type":"text","text":"Actinopharynx","color":"black","fontSize":26,"fontWeight":"bold","align":"center","baseline":"middle"},"encoding":{"x":{"datum":18.25,"type":"quantitative","scale":{"domain":[-3.25,34.86],"nice":false,"zero":false}},"y":{"datum":8.25,"type":"quantitative","scale":{"domain":[-1.252,8.887],"nice":false,"zero":false}}}}
]},
{"width":665,"height":513,"layer":[
{"data":{"values":[{}]},"mark":{"type":"rule","color":"black","strokeWidth":2},"encoding":{"x":{"datum":0.35,"type":"quantitative","scale":{"domain":[-3.25,34.86],"nice":false,"zero":false}},"x2":{"datum":33.5},"y":{"datum":0,"type":"quantitative","scale":{"domain":[-1.175,8.906],"nice":false,"zero":false}}}},
{"data":{"values":[{}]},"mark":{"type":"rule","color":"black","strokeWidth":2},"encoding":{"x":{"datum":0.35,"type":"quantitative","scale":{"domain":[-3.25,34.86],"nice":false,"zero":false}},"y":{"datum":0,"type":"quantitative","scale":{"domain":[-1.175,8.906],"nice":false,"zero":false}},"y2":{"datum":8.41}}},
{"data":{"name":"body_bII"},"mark":"point","encoding":{"x":{"field":"L","type":"quantitative","scale":{"domain":[-3.25,34.86],"nice":false,"zero":false},"axis":{"orient":"bottom","offset":-60,"values":[2,4,6,8,10,12,14,16,18,20,22,24,26,28,30,32],"labelPadding":9,"title":"Length (µm)","titleX":373,"titleY":49}},"y":{"field":"W","type":"quantitative","scale":{"domain":[-1.175,8.906],"nice":false,"zero":false},"axis":{"orient":"left","offset":-62,"values":[0,1,2,3,4,5,6,7,8],"labelPadding":6,"title":"Width (µm)","titleAngle":-90,"titleX":-32,"titleY":220}},"color":{"datum":"basitrich-II","type":"nominal","scale":{"domain":["b-mastigophore","basitrich-I","basitrich-II","p-mastigophore","p-amastigophore","spirocyst"],"range":["#A546E6","#5B9BE4","#4DB83A","#FFF21F","#EE6B2D","#D8123B"]},"legend":{"title":"Cnidae"}}}},
{"data":{"name":"body_bI"},"mark":"point","encoding":{"x":{"field":"L","type":"quantitative","scale":{"domain":[-3.25,34.86],"nice":false,"zero":false},"axis":{"orient":"bottom","offset":-60,"values":[2,4,6,8,10,12,14,16,18,20,22,24,26,28,30,32],"labelPadding":9,"title":"Length (µm)","titleX":373,"titleY":49}},"y":{"field":"W","type":"quantitative","scale":{"domain":[-1.175,8.906],"nice":false,"zero":false},"axis":{"orient":"left","offset":-62,"values":[0,1,2,3,4,5,6,7,8],"labelPadding":6,"title":"Width (µm)","titleAngle":-90,"titleX":-32,"titleY":220}},"color":{"datum":"basitrich-I","type":"nominal","scale":{"domain":["b-mastigophore","basitrich-I","basitrich-II","p-mastigophore","p-amastigophore","spirocyst"],"range":["#A546E6","#5B9BE4","#4DB83A","#FFF21F","#EE6B2D","#D8123B"]},"legend":{"title":"Cnidae"}}}},
{"data":{"name":"body_sp"},"mark":"point","encoding":{"x":{"field":"L","type":"quantitative","scale":{"domain":[-3.25,34.86],"nice":false,"zero":false},"axis":{"orient":"bottom","offset":-60,"values":[2,4,6,8,10,12,14,16,18,20,22,24,26,28,30,32],"labelPadding":9,"title":"Length (µm)","titleX":373,"titleY":49}},"y":{"field":"W","type":"quantitative","scale":{"domain":[-1.175,8.906],"nice":false,"zero":false},"axis":{"orient":"left","offset":-62,"values":[0,1,2,3,4,5,6,7,8],"labelPadding":6,"title":"Width (µm)","titleAngle":-90,"titleX":-32,"titleY":220}},"color":{"datum":"spirocyst","type":"nominal","scale":{"domain":["b-mastigophore","basitrich-I","basitrich-II","p-mastigophore","p-amastigophore","spirocyst"],"range":["#A546E6","#5B9BE4","#4DB83A","#FFF21F","#EE6B2D","#D8123B"]},"legend":{"title":"Cnidae"}}}},
{"data":{"name":"body_pm"},"mark":"point","encoding":{"x":{"field":"L","type":"quantitative","scale":{"domain":[-3.25,34.86],"nice":false,"zero":false},"axis":{"orient":"bottom","offset":-60,"values":[2,4,6,8,10,12,14,16,18,20,22,24,26,28,30,32],"labelPadding":9,"title":"Length (µm)","titleX":373,"titleY":49}},"y":{"field":"W","type":"quantitative","scale":{"domain":[-1.175,8.906],"nice":false,"zero":false},"axis":{"orient":"left","offset":-62,"values":[0,1,2,3,4,5,6,7,8],"labelPadding":6,"title":"Width (µm)","titleAngle":-90,"titleX":-32,"titleY":220}},"color":{"datum":"p-mastigophore","type":"nominal","scale":{"domain":["b-mastigophore","basitrich-I","basitrich-II","p-mastigophore","p-amastigophore","spirocyst"],"range":["#A546E6","#5B9BE4","#4DB83A","#FFF21F","#EE6B2D","#D8123B"]},"legend":{"title":"Cnidae"}}}},
{"data":{"values":[{}]},"mark":{"type":"point","shape":"square","size":1444,"fill":"black","strokeWidth":0},"encoding":{"x":{"datum":-1.77,"type":"quantitative","scale":{"domain":[-3.25,34.86],"nice":false,"zero":false}},"y":{"datum":8.34,"type":"quantitative","scale":{"domain":[-1.175,8.906],"nice":false,"zero":false}}}},
{"data":{"values":[{}]},"mark":{"type":"text","text":"C","color":"white","fontSize":34,"fontWeight":"bold","align":"center","baseline":"middle","dy":1},"encoding":{"x":{"datum":-1.77,"type":"quantitative","scale":{"domain":[-3.25,34.86],"nice":false,"zero":false}},"y":{"datum":8.34,"type":"quantitative","scale":{"domain":[-1.175,8.906],"nice":false,"zero":false}}}},
{"data":{"values":[{}]},"mark":{"type":"text","text":"Body column","color":"black","fontSize":26,"fontWeight":"bold","align":"center","baseline":"middle"},"encoding":{"x":{"datum":16.99,"type":"quantitative","scale":{"domain":[-3.25,34.86],"nice":false,"zero":false}},"y":{"datum":8.277,"type":"quantitative","scale":{"domain":[-1.175,8.906],"nice":false,"zero":false}}}}
]},
{"width":665,"height":513,"layer":[
{"data":{"values":[{}]},"mark":{"type":"rule","color":"black","strokeWidth":2},"encoding":{"x":{"datum":0.35,"type":"quantitative","scale":{"domain":[-3.25,34.86],"nice":false,"zero":false}},"x2":{"datum":33.5},"y":{"datum":0,"type":"quantitative","scale":{"domain":[-1.175,8.906],"nice":false,"zero":false}}}},
{"data":{"values":[{}]},"mark":{"type":"rule","color":"black","strokeWidth":2},"encoding":{"x":{"datum":0.35,"type":"quantitative","scale":{"domain":[-3.25,34.86],"nice":false,"zero":false}},"y":{"datum":0,"type":"quantitative","scale":{"domain":[-1.175,8.906],"nice":false,"zero":false}},"y2":{"datum":8.41}}},
{"data":{"name":"mes_bII"},"mark":"point","encoding":{"x":{"field":"L","type":"quantitative","scale":{"domain":[-3.25,34.86],"nice":false,"zero":false},"axis":{"orient":"bottom","offset":-60,"values":[2,4,6,8,10,12,14,16,18,20,22,24,26,28,30,32],"labelPadding":9,"title":"Length (µm)","titleX":373,"titleY":49}},"y":{"field":"W","type":"quantitative","scale":{"domain":[-1.175,8.906],"nice":false,"zero":false},"axis":{"orient":"left","offset":-62,"values":[0,1,2,3,4,5,6,7,8],"labelPadding":6,"title":"Width (µm)","titleAngle":-90,"titleX":-32,"titleY":220}},"color":{"datum":"basitrich-II","type":"nominal","scale":{"domain":["b-mastigophore","basitrich-I","basitrich-II","p-mastigophore","p-amastigophore","spirocyst"],"range":["#A546E6","#5B9BE4","#4DB83A","#FFF21F","#EE6B2D","#D8123B"]},"legend":{"title":"Cnidae"}}}},
{"data":{"name":"mes_pa"},"mark":"point","encoding":{"x":{"field":"L","type":"quantitative","scale":{"domain":[-3.25,34.86],"nice":false,"zero":false},"axis":{"orient":"bottom","offset":-60,"values":[2,4,6,8,10,12,14,16,18,20,22,24,26,28,30,32],"labelPadding":9,"title":"Length (µm)","titleX":373,"titleY":49}},"y":{"field":"W","type":"quantitative","scale":{"domain":[-1.175,8.906],"nice":false,"zero":false},"axis":{"orient":"left","offset":-62,"values":[0,1,2,3,4,5,6,7,8],"labelPadding":6,"title":"Width (µm)","titleAngle":-90,"titleX":-32,"titleY":220}},"color":{"datum":"p-amastigophore","type":"nominal","scale":{"domain":["b-mastigophore","basitrich-I","basitrich-II","p-mastigophore","p-amastigophore","spirocyst"],"range":["#A546E6","#5B9BE4","#4DB83A","#FFF21F","#EE6B2D","#D8123B"]},"legend":{"title":"Cnidae"}}}},
{"data":{"name":"mes_bI"},"mark":"point","encoding":{"x":{"field":"L","type":"quantitative","scale":{"domain":[-3.25,34.86],"nice":false,"zero":false},"axis":{"orient":"bottom","offset":-60,"values":[2,4,6,8,10,12,14,16,18,20,22,24,26,28,30,32],"labelPadding":9,"title":"Length (µm)","titleX":373,"titleY":49}},"y":{"field":"W","type":"quantitative","scale":{"domain":[-1.175,8.906],"nice":false,"zero":false},"axis":{"orient":"left","offset":-62,"values":[0,1,2,3,4,5,6,7,8],"labelPadding":6,"title":"Width (µm)","titleAngle":-90,"titleX":-32,"titleY":220}},"color":{"datum":"basitrich-I","type":"nominal","scale":{"domain":["b-mastigophore","basitrich-I","basitrich-II","p-mastigophore","p-amastigophore","spirocyst"],"range":["#A546E6","#5B9BE4","#4DB83A","#FFF21F","#EE6B2D","#D8123B"]},"legend":{"title":"Cnidae"}}}},
{"data":{"name":"mes_pm"},"mark":"point","encoding":{"x":{"field":"L","type":"quantitative","scale":{"domain":[-3.25,34.86],"nice":false,"zero":false},"axis":{"orient":"bottom","offset":-60,"values":[2,4,6,8,10,12,14,16,18,20,22,24,26,28,30,32],"labelPadding":9,"title":"Length (µm)","titleX":373,"titleY":49}},"y":{"field":"W","type":"quantitative","scale":{"domain":[-1.175,8.906],"nice":false,"zero":false},"axis":{"orient":"left","offset":-62,"values":[0,1,2,3,4,5,6,7,8],"labelPadding":6,"title":"Width (µm)","titleAngle":-90,"titleX":-32,"titleY":220}},"color":{"datum":"p-mastigophore","type":"nominal","scale":{"domain":["b-mastigophore","basitrich-I","basitrich-II","p-mastigophore","p-amastigophore","spirocyst"],"range":["#A546E6","#5B9BE4","#4DB83A","#FFF21F","#EE6B2D","#D8123B"]},"legend":{"title":"Cnidae"}}}},
{"data":{"name":"mes_bm"},"mark":"point","encoding":{"x":{"field":"L","type":"quantitative","scale":{"domain":[-3.25,34.86],"nice":false,"zero":false},"axis":{"orient":"bottom","offset":-60,"values":[2,4,6,8,10,12,14,16,18,20,22,24,26,28,30,32],"labelPadding":9,"title":"Length (µm)","titleX":373,"titleY":49}},"y":{"field":"W","type":"quantitative","scale":{"domain":[-1.175,8.906],"nice":false,"zero":false},"axis":{"orient":"left","offset":-62,"values":[0,1,2,3,4,5,6,7,8],"labelPadding":6,"title":"Width (µm)","titleAngle":-90,"titleX":-32,"titleY":220}},"color":{"datum":"b-mastigophore","type":"nominal","scale":{"domain":["b-mastigophore","basitrich-I","basitrich-II","p-mastigophore","p-amastigophore","spirocyst"],"range":["#A546E6","#5B9BE4","#4DB83A","#FFF21F","#EE6B2D","#D8123B"]},"legend":{"title":"Cnidae"}}}},
{"data":{"name":"mes_sp"},"mark":"point","encoding":{"x":{"field":"L","type":"quantitative","scale":{"domain":[-3.25,34.86],"nice":false,"zero":false},"axis":{"orient":"bottom","offset":-60,"values":[2,4,6,8,10,12,14,16,18,20,22,24,26,28,30,32],"labelPadding":9,"title":"Length (µm)","titleX":373,"titleY":49}},"y":{"field":"W","type":"quantitative","scale":{"domain":[-1.175,8.906],"nice":false,"zero":false},"axis":{"orient":"left","offset":-62,"values":[0,1,2,3,4,5,6,7,8],"labelPadding":6,"title":"Width (µm)","titleAngle":-90,"titleX":-32,"titleY":220}},"color":{"datum":"spirocyst","type":"nominal","scale":{"domain":["b-mastigophore","basitrich-I","basitrich-II","p-mastigophore","p-amastigophore","spirocyst"],"range":["#A546E6","#5B9BE4","#4DB83A","#FFF21F","#EE6B2D","#D8123B"]},"legend":{"title":"Cnidae"}}}},
{"data":{"values":[{}]},"mark":{"type":"point","shape":"square","size":1444,"fill":"black","strokeWidth":0},"encoding":{"x":{"datum":-1.75,"type":"quantitative","scale":{"domain":[-3.25,34.86],"nice":false,"zero":false}},"y":{"datum":8.4,"type":"quantitative","scale":{"domain":[-1.175,8.906],"nice":false,"zero":false}}}},
{"data":{"values":[{}]},"mark":{"type":"text","text":"D","color":"white","fontSize":34,"fontWeight":"bold","align":"center","baseline":"middle","dy":1},"encoding":{"x":{"datum":-1.75,"type":"quantitative","scale":{"domain":[-3.25,34.86],"nice":false,"zero":false}},"y":{"datum":8.4,"type":"quantitative","scale":{"domain":[-1.175,8.906],"nice":false,"zero":false}}}},
{"data":{"values":[{}]},"mark":{"type":"text","text":"Mesenterial filament","color":"black","fontSize":26,"fontWeight":"bold","align":"center","baseline":"middle"},"encoding":{"x":{"datum":17.8,"type":"quantitative","scale":{"domain":[-3.25,34.86],"nice":false,"zero":false}},"y":{"datum":8.277,"type":"quantitative","scale":{"domain":[-1.175,8.906],"nice":false,"zero":false}}}}
]}
]
}
